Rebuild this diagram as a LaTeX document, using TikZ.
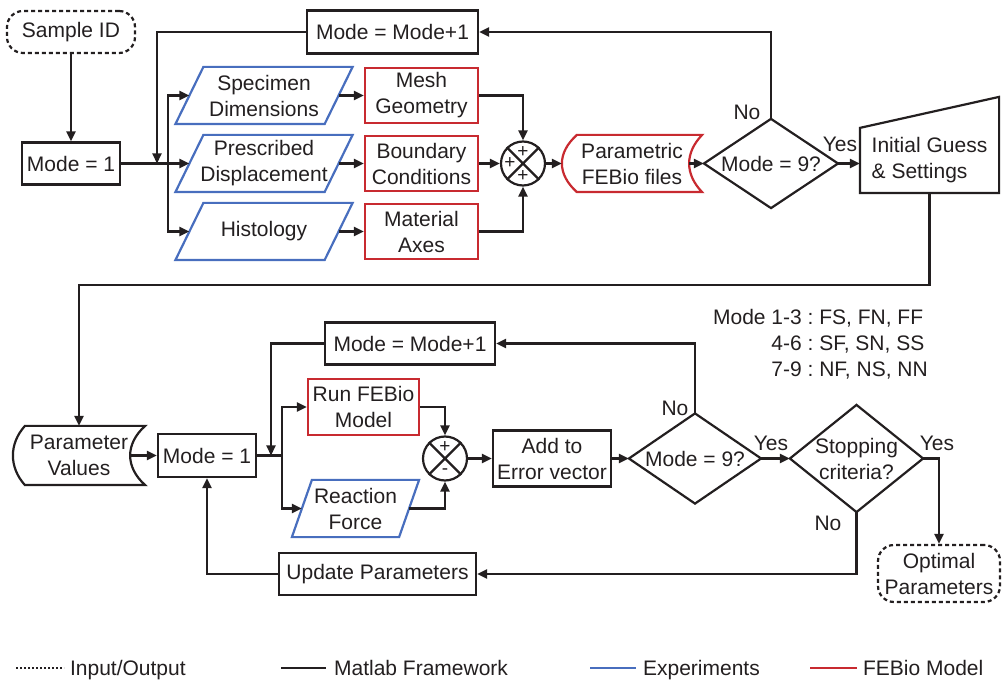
\documentclass[tikz,border=0pt]{standalone}
\usepackage{fontspec}
\setmainfont{Liberation Sans}
\usetikzlibrary{arrows.meta,calc}
\definecolor{ink}{RGB}{35,31,32}
\definecolor{expblue}{RGB}{72,110,190}
\definecolor{febred}{RGB}{200,42,48}
% parallelogram outline: node, slant, colour
\newcommand\paraout[3]{\draw[#3] ($(#1.north west)+(#2,0)$) -- ($(#1.north east)+(#2,0)$) -- ($(#1.south east)+(-#2,0)$) -- ($(#1.south west)+(-#2,0)$) -- cycle;}
% stored-data outline: node, left offset, right indent, colour
\newcommand\storeout[4]{\draw[#4] ($(#1.north west)+(#2,0)$) -- (#1.north east)
  .. controls ($(#1.north east)+(-1.33*#3,18)$) and ($(#1.south east)+(-1.33*#3,-18)$) .. (#1.south east)
  -- ($(#1.south west)+(#2,0)$)
  .. controls ($(#1.south west)+(-#2/3,-18)$) and ($(#1.north west)+(-#2/3,18)$) .. ($(#1.north west)+(#2,0)$) -- cycle;}
\newcommand\diamout[1]{\draw[ink] (#1.north) -- (#1.east) -- (#1.south) -- (#1.west) -- cycle;}
\begin{document}
\begin{tikzpicture}[x=1pt,y=-1pt,
  font=\fontsize{21}{26}\selectfont, text=ink, line width=2.2pt,
  >={Triangle[length=10pt,width=9pt]},
  box/.style={draw=ink, rectangle, inner sep=0pt, align=center},
  redbox/.style={draw=febred, rectangle, inner sep=0pt, align=center},
  shp/.style={rectangle, inner sep=0pt, align=center},
  io/.style={draw=ink, rectangle, rounded corners=16pt, dash pattern=on 4pt off 3pt, inner sep=0pt, align=center},
  sum/.style={circle, draw=ink, minimum size=44pt, inner sep=0pt},
  arr/.style={->, draw=ink},
  ln/.style={draw=ink},
  lab/.style={inner sep=0pt},
  sign/.style={inner sep=0pt, font=\fontsize{19}{20}\selectfont}]
\useasboundingbox (0,0) rectangle (1002,684);

% ---------- top part ----------
\node[io, minimum width=128pt, minimum height=42pt] (sid) at (71,32) {Sample ID};
\node[box, minimum width=98pt, minimum height=42pt] (m1) at (71,163.5) {Mode = 1};
\node[box, minimum width=171pt, minimum height=43pt] (mm1) at (392.5,32) {Mode = Mode+1};

\node[shp, minimum width=147pt, minimum height=55pt] (sd) at (264,95.5) {Specimen\\Dimensions};
\node[shp, minimum width=147pt, minimum height=55pt] (pd) at (264,163.5) {Prescribed\\Displacement};
\node[shp, minimum width=147pt, minimum height=55pt] (hi) at (264,231.5) {Histology};
\paraout{sd}{14}{expblue}
\paraout{pd}{14}{expblue}
\paraout{hi}{14}{expblue}

\node[redbox, minimum width=113pt, minimum height=55pt] (mg) at (421.5,95.5) {Mesh\\Geometry};
\node[redbox, minimum width=113pt, minimum height=55pt] (bc) at (421.5,163.5) {Boundary\\Conditions};
\node[redbox, minimum width=113pt, minimum height=55pt] (ma) at (421.5,231.5) {Material\\Axes};

\node[sum] (s1) at (523,163.5) {};
\draw[ink] (s1.45) -- (s1.225) (s1.135) -- (s1.315);
\node[sign] (s1a) at (523,152) {+};
\node[sign] (s1b) at (510,163.5) {+};
\node[sign] (s1c) at (523,176) {+};

\node[shp, minimum width=138pt, minimum height=55pt] (pf) at (632,163.5) {Parametric\\FEBio files};
\storeout{pf}{15}{13}{febred}
\coordinate (pfout) at ($(pf.east)+(-13,0)$);

\node[shp, minimum width=132pt, minimum height=87pt] (d1) at (771,163.5) {Mode = 9?};
\diamout{d1}

\node[shp, minimum width=137pt, minimum height=63pt, align=left] (ig) at (929.5,160.5) {Initial Guess\\\& Settings};
\draw[ink] (ig.south west) -- (ig.north west) -- ($(ig.north east)+(0,-31)$) -- (ig.south east) -- cycle;

\node[lab] (no1) at (747,112) {No};
\node[lab] (yes1) at (840,144) {Yes};

\coordinate (br1) at (168,163.5);
\coordinate (fb1) at (157,163.5);
\draw[arr] (sid.south) -- (m1.north);
\draw[arr] (m1.east) -- (pd.west);
\draw[arr] (br1) |- (sd.west);
\draw[arr] (br1) |- (hi.west);
\draw[arr] (mm1.west) -| (fb1);
\draw[arr] (sd.east) -- (mg.west);
\draw[arr] (pd.east) -- (bc.west);
\draw[arr] (hi.east) -- (ma.west);
\draw[arr] (mg.east) -| (s1.north);
\draw[arr] (bc.east) -- (s1.west);
\draw[arr] (ma.east) -| (s1.south);
\draw[arr] (s1.east) -- (pf.west);
\draw[arr] (pfout) -- (d1.west);
\draw[arr] (d1.north) |- (mm1.east);
\draw[arr] (d1.east) -- (d1.east -| ig.west);

% ---------- bottom part ----------
\node[shp, minimum width=130pt, minimum height=57pt] (pv) at (79,455.5) {Parameter\\Values};
\storeout{pv}{12}{15}{ink}
\coordinate (pvout) at ($(pv.east)+(-15,0)$);
\draw[arr] (ig.south) -- ++(0,92) -| (pv.north);

\node[box, minimum width=98pt, minimum height=43pt] (m2) at (207,455.5) {Mode = 1};
\node[box, minimum width=170pt, minimum height=42pt] (mm2) at (410,343.5) {Mode = Mode+1};
\node[redbox, minimum width=111pt, minimum height=56pt] (run) at (363.5,407) {Run FEBio\\Model};
\node[shp, minimum width=105pt, minimum height=55pt] (rf) at (355.5,508.5) {Reaction\\Force};
\paraout{rf}{10}{expblue}

\node[sum] (s2) at (445,458.5) {};
\draw[ink] (s2.45) -- (s2.225) (s2.135) -- (s2.315);
\node[sign] (s2a) at (445,447) {+};
\node[sign] (s2b) at (445,472) {-};

\node[box, minimum width=118pt, minimum height=56pt] (add) at (552,458.5) {Add to\\Error vector};
\node[shp, minimum width=130pt, minimum height=88pt] (d2) at (695,458.5) {Mode = 9?};
\diamout{d2}
\node[shp, minimum width=131pt, minimum height=105pt] (sc) at (856.5,458.5) {Stopping\\criteria?};
\diamout{sc}
\node[io, minimum width=122pt, minimum height=57pt] (op) at (939,573.5) {Optimal\\Parameters};
\node[box, minimum width=197pt, minimum height=42pt] (up) at (377.5,574) {Update Parameters};

\node[lab] (no2) at (675,408) {No};
\node[lab] (yes2) at (771,443) {Yes};
\node[lab] (yes3) at (937,443) {Yes};
\node[lab] (no3) at (828,523) {No};

\coordinate (br2) at (282,455.5);
\coordinate (fb2) at (271,455.5);
\draw[arr] (pvout) -- (m2.west);
\draw[ln] (m2.east) -- (br2);
\draw[arr] (br2) |- (run.west);
\draw[arr] (br2) |- (rf.west);
\draw[arr] (mm2.west) -| (fb2);
\draw[arr] (run.east) -| (s2.north);
\draw[arr] (rf.east) -| (s2.south);
\draw[arr] (s2.east) -- (add.west);
\draw[arr] (add.east) -- (d2.west);
\draw[arr] (d2.north) |- (mm2.east);
\draw[arr] (d2.east) -- (sc.west);
\draw[arr] (sc.east) -| (op.north);
\draw[arr] (sc.south) |- (up.east);
\draw[arr] (up.west) -| (m2.south);

% ---------- mode list ----------
\node[inner sep=0pt, anchor=north west] (modes) at (712,305) {%
  \begin{tabular}{@{}r@{~:~}l@{}}
  Mode 1-3 & FS, FN, FF\\
  4-6 & SF, SN, SS\\
  7-9 & NF, NS, NN
  \end{tabular}};

% ---------- legend ----------
\draw[ink, dash pattern=on 2pt off 2pt] (16,668) -- (64,668);
\node[lab, anchor=base west] (lg1) at (69,675.5) {Input/Output};
\draw[ink] (281,668) -- (326,668);
\node[lab, anchor=base west] (lg2) at (333,675.5) {Matlab Framework};
\draw[expblue] (590,668) -- (636,668);
\node[lab, anchor=base west] (lg3) at (642,675.5) {Experiments};
\draw[febred] (810,668) -- (857,668);
\node[lab, anchor=base west] (lg4) at (862,675.5) {FEBio Model};
\end{tikzpicture}
\end{document}
